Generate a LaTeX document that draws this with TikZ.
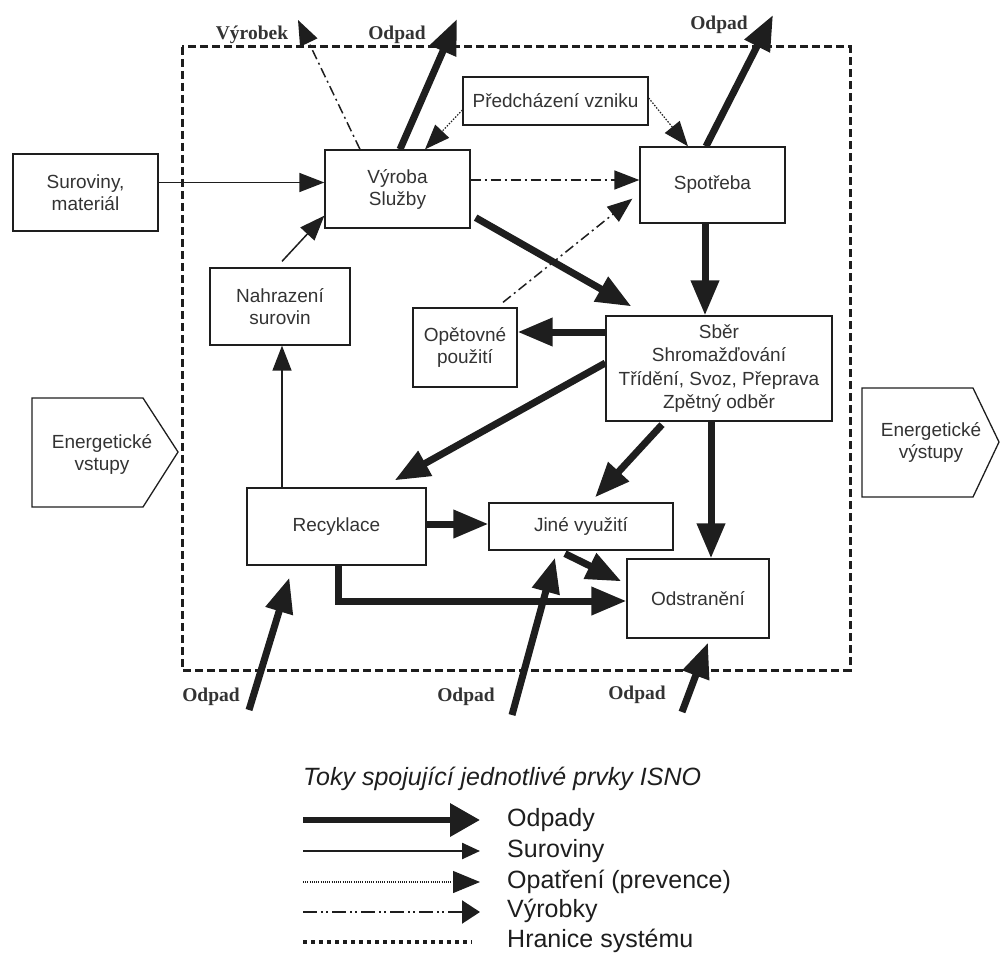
\documentclass[tikz,border=0pt]{standalone}
\usepackage{fontspec}
\setmainfont{Liberation Sans}
\newfontfamily\lserif{Liberation Serif}
\usetikzlibrary{arrows.meta,calc}
\definecolor{ink}{HTML}{1E1E1E}
\definecolor{txt}{HTML}{333333}
\begin{document}
\begin{tikzpicture}[x=1pt,y=-1pt,
  box/.style={draw=ink, line width=1.3pt, inner sep=0pt, align=center, text=txt,
    font=\fontsize{19}{22}\selectfont},
  plain/.style={inner sep=0pt, align=center, text=txt, font=\fontsize{19}{22}\selectfont},
  lbl/.style={inner sep=0pt, text=txt, font=\lserif\bfseries\fontsize{19.5}{22}\selectfont},
  waste/.style={draw=ink, line width=7pt, -{Triangle[length=35pt,width=27pt]}},
  raw/.style={draw=ink, line width=1.5pt, -{Triangle[length=25pt,width=19pt]}},
  prev/.style={draw=ink, line width=1.2pt, dash pattern=on 1.5pt off 1.5pt, -{Triangle[length=25pt,width=19pt]}},
  prod/.style={draw=ink, line width=1.5pt, dash pattern=on 10pt off 4pt on 2pt off 4pt, -{Triangle[length=25pt,width=19pt]}},
  bound/.style={draw=ink, line width=3pt, dash pattern=on 8pt off 4pt},
  legt/.style={inner sep=0pt, text=ink, font=\fontsize{25}{28}\selectfont},
]
\useasboundingbox (0,0) rectangle (1000,952);

% system boundary
\draw[bound] (182,47) rectangle (850,670);

% boxes
\node[box, minimum width=145pt, minimum height=77pt] (sur) at (85.5,192.5) {Suroviny,\\materiál};
\node[box, minimum width=145pt, minimum height=78pt] (vyr) at (397.5,189) {Výroba\\Služby};
\node[box, minimum width=185pt, minimum height=48pt] (pred) at (555.5,101) {Předcházení vzniku};
\node[box, minimum width=145pt, minimum height=76pt] (spo) at (712.5,185) {Spotřeba};
\node[box, minimum width=140pt, minimum height=77pt] (nah) at (280,306.5) {Nahrazení\\surovin};
\node[box, minimum width=104pt, minimum height=79pt] (ope) at (465,347.5) {Opětovné\\použití};
\node[box, minimum width=226pt, minimum height=105pt, font=\fontsize{19}{23.5}\selectfont] (sber) at (719,368.5)
  {Sběr\\Shromažďování\\Třídění, Svoz, Přeprava\\Zpětný odběr};
\node[box, minimum width=179pt, minimum height=77pt] (rec) at (336.5,526.5) {Recyklace};
\node[box, minimum width=184pt, minimum height=47pt] (jine) at (581,526.5) {Jiné využití};
\node[box, minimum width=142pt, minimum height=79pt] (ods) at (698,598.5) {Odstranění};

% energy shapes
\draw[ink, line width=1.3pt] (32,398) -- (143,398) -- (178,452) -- (143,507) -- (32,507) -- cycle;
\node[plain] (ev) at (102,454) {Energetické\\vstupy};
\draw[ink, line width=1.3pt] (862,388) -- (973,388) -- (999,442) -- (973,497) -- (862,497) -- cycle;
\node[plain] (ex) at (931,442) {Energetické\\výstupy};

% outer labels and free ends
\node[lbl] (lvyrobek) at (252,35) {Výrobek};
\node[lbl] (lodp1) at (397,35) {Odpad};
\node[lbl] (lodp2) at (719,25) {Odpad};
\node[lbl] (lodp3) at (211,697) {Odpad};
\node[lbl] (lodp4) at (466,697) {Odpad};
\node[lbl] (lodp5) at (637,695) {Odpad};
\coordinate (p1) at (298,20);
\coordinate (o1) at (457,19);
\coordinate (o2) at (773,15);
\coordinate (i1) at (249,710);
\coordinate (i2) at (512,715);
\coordinate (i3) at (682,712);

% helper coordinates
\coordinate (c1) at ($(sur.east)+(0,-10)$);
\coordinate (c3) at ($(rec.north)+(-54.5,0)$);
\coordinate (c7) at ($(spo.south)+(-7.5,0)$);
\coordinate (c8) at ($(sber.west)+(0,-36.5)$);
\coordinate (c11) at ($(sber.south)+(-8,0)$);
\coordinate (c12) at ($(rec.east)+(0,-2.5)$);
\coordinate (c14a) at ($(rec.south)+(1.5,0)$);
\coordinate (c14b) at ($(ods.west)+(0,2.5)$);
\coordinate (c20) at ($(vyr.east)+(0,-9)$);

% raw material flows
\draw[raw] (c1) -- (c1 -| vyr.west);
\draw[raw] ($(nah.north)+(2,-6)$) -- ($(vyr.south west)+(0,-13)$);
\draw[raw] (c3) -- (c3 |- nah.south);

% prevention flows
\draw[prev] ($(pred.west)+(0,9)$) -- ($(vyr.north)+(27.5,0)$);
\draw[prev] ($(pred.east)+(0,-3)$) -- ($(spo.north)+(-24.5,0)$);

% product flows
\draw[prod] (c20) -- (c20 -| spo.west);
\draw[prod] ($(vyr.north)+(-37.5,0)$) -- (p1);
\draw[prod] ($(ope.north)+(38,-5)$) -- ($(spo.south west)+(-7,-25)$);

% waste flows
\draw[waste] ($(vyr.north)+(2.5,0)$) -- (o1);
\draw[waste] ($(spo.north)+(-6.5,0)$) -- (o2);
\draw[waste] ($(vyr.south east)+(5,-11)$) -- ($(sber.north west)+(26,-9)$);
\draw[waste] (c7) -- (c7 |- sber.north);
\draw[waste] (c8) -- (c8 -| ope.east);
\draw[waste] ($(sber.west)+(0,-5.5)$) -- ($(rec.north east)+(-32,-7)$);
\draw[waste] ($(sber.south)+(-57,3)$) -- ($(jine.north)+(14,-5)$);
\draw[waste] (c11) -- (c11 |- ods.north);
\draw[waste] (c12) -- (c12 -| jine.west);
\draw[waste] ($(jine.south)+(-16,3)$) -- ($(ods.north west)+(-5,23)$);
\draw[waste] (c14a) |- (c14b);
\draw[waste] (i1) -- ($(rec.south west)+(43,12)$);
\draw[waste] (i2) -- ($(jine.south)+(-26,7)$);
\draw[waste] (i3) -- ($(ods.south)+(10,4)$);

% legend
\node[legt, anchor=base west, font=\itshape\fontsize{25}{28}\selectfont] (lt) at (303,785) {Toky spojující jednotlivé prvky ISNO};
\coordinate (la1) at (303,820); \coordinate (lb1) at (480,820);
\coordinate (la2) at (303,851); \coordinate (lb2) at (480,851);
\coordinate (la3) at (303,882); \coordinate (lb3) at (480,882);
\coordinate (la4) at (303,912); \coordinate (lb4) at (480,912);
\coordinate (la5) at (303,942); \coordinate (lb5) at (472,942);
\draw[draw=ink, line width=6.5pt, -{Triangle[length=30pt,width=32pt]}] (la1) -- (lb1);
\draw[draw=ink, line width=2.5pt, -{Triangle[length=18pt,width=16pt]}] (la2) -- (lb2);
\draw[draw=ink, line width=1.2pt, dash pattern=on 1pt off 1.2pt, -{Triangle[length=27pt,width=22pt]}] (la3) -- (lb3);
\draw[draw=ink, line width=2.2pt, dash pattern=on 14pt off 4pt on 2pt off 3pt on 2pt off 4pt, -{Triangle[length=18pt,width=23pt]}] (la4) -- (lb4);
\draw[draw=ink, line width=4.5pt, dash pattern=on 4pt off 4pt] (la5) -- (lb5);
\node[legt, anchor=base west] (l1) at (507,826) {Odpady};
\node[legt, anchor=base west] (l2) at (507,857) {Suroviny};
\node[legt, anchor=base west] (l3) at (507,888) {Opatření (prevence)};
\node[legt, anchor=base west] (l4) at (507,917) {Výrobky};
\node[legt, anchor=base west] (l5) at (507,947) {Hranice systému};
\end{tikzpicture}
\end{document}
